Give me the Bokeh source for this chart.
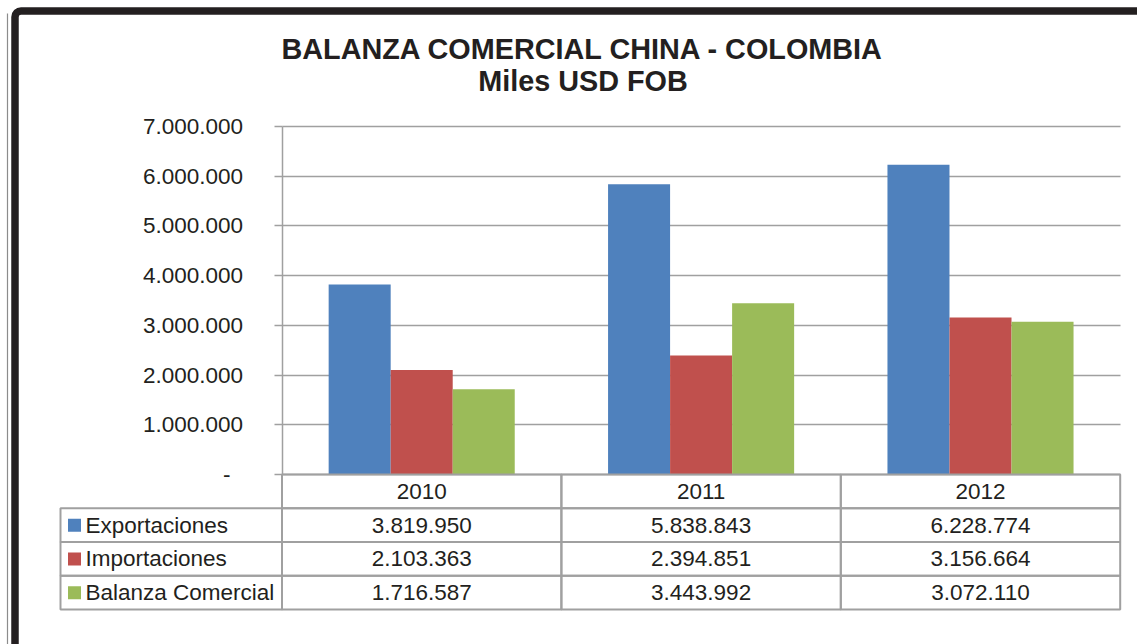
from bokeh.plotting import figure
from bokeh.models import (Range1d, LinearAxis, FixedTicker, Grid, BoxAnnotation,
                          Label, ColumnDataSource)
from bokeh.embed import file_html
from bokeh.resources import INLINE
from bokeh.core.properties import value

# ---------------- data ----------------
years = ["2010", "2011", "2012"]
series_names = ["Exportaciones", "Importaciones", "Balanza Comercial"]
exportaciones = [3819950, 5838843, 6228774]
importaciones = [2103363, 2394851, 3156664]
balanza = [1716587, 3443992, 3072110]
series_colors = ["#4F81BD", "#C0504D", "#9BBB59"]
y_ticks = [0, 1000000, 2000000, 3000000, 4000000, 5000000, 6000000, 7000000]
y_tick_labels = ["-\u00a0\u00a0", "1.000.000", "2.000.000", "3.000.000", "4.000.000",
                 "5.000.000", "6.000.000", "7.000.000"]
title_line1 = "BALANZA COMERCIAL CHINA - COLOMBIA"
title_line2 = "Miles USD FOB"

# ---------------- layout constants (pixels) ----------------
W, H = 1137, 644
X0_S = 281.5          # screen x of category axis origin
CAT_PX = 279.4        # pixels per category
Y0_S = 474.0          # screen y of value 0
PXM = 348.0 / 7e6     # pixels per unit value
ROW_PX = 33.75        # table row height
BAR_W = 0.222
FONT = "Liberation Sans"
TXT = "#231f20"
GRID = "#a0a0a0"


def sx(px):
    return (px - X0_S) / CAT_PX


def sy(py):
    return (Y0_S - py) / PXM


p = figure(width=W, height=H, output_backend="svg", toolbar_location=None,
           x_axis_type=None, y_axis_type=None,
           x_range=Range1d(sx(0), sx(W)), y_range=Range1d(sy(H), sy(0)),
           min_border=0, outline_line_color=None, background_fill_color="white",
           border_fill_color="white")

ticker = FixedTicker(ticks=y_ticks)
yaxis = LinearAxis(fixed_location=0, bounds=(0, 7000000), ticker=ticker,
                   major_label_overrides={t: l for t, l in zip(y_ticks, y_tick_labels)},
                   axis_line_color=GRID, axis_line_width=1.5,
                   major_tick_line_color=GRID, major_tick_line_width=1.5,
                   major_tick_out=8, major_tick_in=0, minor_tick_out=0, minor_tick_in=0,
                   major_label_standoff=31,
                   major_label_text_font=FONT, major_label_text_font_size="22.5px",
                   major_label_text_color=TXT)
p.add_layout(yaxis, "left")

grid = Grid(dimension=1, ticker=ticker, grid_line_color=GRID, grid_line_width=1.5)
grid.cross_bounds = (0, len(years))
p.add_layout(grid)

# ---------------- bars ----------------
values = [exportaciones, importaciones, balanza]
for s, (name, vals, col) in enumerate(zip(series_names, values, series_colors)):
    src = ColumnDataSource(dict(x=[i + 0.5 + (s - 1) * BAR_W for i in range(len(years))],
                                top=vals))
    p.vbar(x="x", top="top", bottom=0, width=BAR_W, source=src,
           fill_color=col, line_color=None)

# ---------------- data table ----------------
ROW = ROW_PX / PXM
LEG_L = sx(60)
cl, cr, ct, cb = [], [], [], []
for i in range(len(years)):
    cl.append(i); cr.append(i + 1); ct.append(0); cb.append(-ROW)
for r in range(1, len(series_names) + 1):
    cl.append(LEG_L); cr.append(0); ct.append(-r * ROW); cb.append(-(r + 1) * ROW)
    for i in range(len(years)):
        cl.append(i); cr.append(i + 1); ct.append(-r * ROW); cb.append(-(r + 1) * ROW)
p.quad(left=cl, right=cr, top=ct, bottom=cb, fill_color=None,
       line_color=GRID, line_width=2)

# header years
p.text(x=[i + 0.5 for i in range(len(years))], y=[-0.5 * ROW] * len(years), text=years,
       text_align="center", text_baseline="middle", text_font=value(FONT),
       text_font_size=value("22.5px"), text_color=TXT)

fmt = lambda v: f"{v:,}".replace(",", ".")
for s, vals in enumerate(values):
    yc = -(s + 1.5) * ROW
    p.text(x=[i + 0.5 for i in range(len(years))], y=[yc] * len(years),
           text=[fmt(v) for v in vals], text_align="center", text_baseline="middle",
           text_font=value(FONT), text_font_size=value("22.5px"), text_color=TXT)

leg_y = [-(s + 1.5) * ROW for s in range(len(series_names))]
p.scatter(x=[sx(74)] * 3, y=leg_y, marker="square", size=13,
          fill_color=series_colors, line_color=None)
p.text(x=[sx(85)] * 3, y=leg_y, text=series_names, text_align="left",
       text_baseline="middle", text_font=value(FONT), text_font_size=value("22.5px"),
       text_color=TXT)

# ---------------- title ----------------
p.add_layout(Label(x=sx(582.5), y=sy(48.5), text=title_line1, text_align="center",
                   text_baseline="alphabetic", text_font=FONT, text_font_size="28.8px",
                   text_font_style="bold", text_color=TXT))
p.add_layout(Label(x=sx(582.5), y=sy(80.5), text=title_line2, text_align="center",
                   text_baseline="alphabetic", text_font=FONT, text_font_size="28.8px",
                   text_font_style="bold", text_color=TXT))

# ---------------- outer frame (chart border) ----------------
side_line = BoxAnnotation(left=sx(6.4), right=sx(7.6), top=sy(13), bottom=sy(700),
                          fill_color="#8c8c8c", fill_alpha=1, line_color=None,
                          level="overlay")
p.add_layout(side_line)
frame_box = BoxAnnotation(left=sx(14.5), top=sy(10.5), right=sx(1200), bottom=sy(700),
                          fill_color=None, line_color="#231f20", line_alpha=1,
                          line_width=7.5, level="overlay")
if "border_radius" in frame_box.properties():
    frame_box.border_radius = 6
p.add_layout(frame_box)

open("out.html", "w").write(file_html(p, INLINE))
